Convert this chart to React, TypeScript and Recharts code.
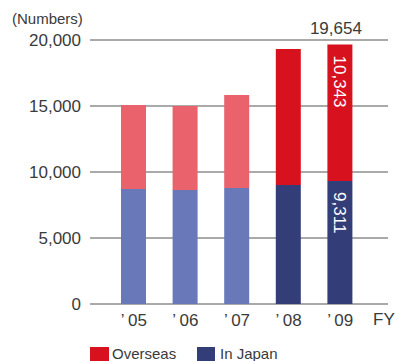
import { BarChart, Bar, XAxis, YAxis, CartesianGrid, Cell, LabelList } from "recharts";

const years = ["’\u200905", "’\u200906", "’\u200907", "’\u200908", "’\u200909"];
const inJapan = [8710, 8640, 8790, 9020, 9311];
const overseas = [6370, 6360, 7040, 10300, 10343];
const yTicks = [0, 5000, 10000, 15000, 20000];

const LIGHT_RED = "#E9626C";
const LIGHT_BLUE = "#6878B8";
const DARK_RED = "#D8111F";
const NAVY = "#333D77";
const TEXT = "#3a3a3a";
const FONT = "'Liberation Sans', Arial, sans-serif";

const data = years.map((year, i) => ({
  year,
  japan: inJapan[i],
  overseas: overseas[i],
  total: inJapan[i] + overseas[i],
}));

const fmt = (v: number) => v.toLocaleString("en-US");

// only the latest year gets value labels
function InsideLabel(props: any) {
  const { x, y, width, value, index } = props;
  if (index !== data.length - 1) return null;
  const cx = x + width / 2;
  const y0 = y + 11;
  return (
    <text x={cx} y={y0} transform={`rotate(90, ${cx}, ${y0})`} fill="#fff" fontSize={17}
      fontFamily={FONT} textAnchor="start" dominantBaseline="central">
      {fmt(value)}
    </text>
  );
}

function TotalLabel(props: any) {
  const { x, y, width, index } = props;
  if (index !== data.length - 1) return null;
  return (
    <text x={x + width / 2 - 4} y={y - 11} fill={TEXT} fontSize={17} fontFamily={FONT} textAnchor="middle">
      {fmt(data[index].total)}
    </text>
  );
}

export default function App() {
  return (
    <div style={{ position: "absolute", left: 0, top: 0, width: 395, height: 361, background: "#fff", fontFamily: FONT, overflow: "hidden" }}>
      <div style={{ position: "absolute", left: 12, top: 10, fontSize: 15, color: TEXT }}>(Numbers)</div>
      <BarChart width={395} height={361} data={data} margin={{ top: 40, right: 7, left: 0, bottom: 27 }}>
        <CartesianGrid vertical={false} stroke="#555" />
        <XAxis dataKey="year" height={30} axisLine={false} tickLine={false} tickSize={6} tickMargin={4}
          padding={{ left: 18, right: 22 }} tick={{ fontSize: 17, fill: TEXT, fontFamily: FONT }} />
        <YAxis width={90} domain={[0, 20000]} ticks={yTicks} tickFormatter={fmt} axisLine={false} tickLine={false}
          tickSize={6} tickMargin={3} tick={{ fontSize: 17, fill: TEXT, fontFamily: FONT }} />
        <Bar dataKey="japan" stackId="a" barSize={25} isAnimationActive={false}>
          {data.map((_, i) => <Cell key={i} fill={i < 3 ? LIGHT_BLUE : NAVY} />)}
          <LabelList dataKey="japan" content={InsideLabel} />
        </Bar>
        <Bar dataKey="overseas" stackId="a" barSize={25} isAnimationActive={false}>
          {data.map((_, i) => <Cell key={i} fill={i < 3 ? LIGHT_RED : DARK_RED} />)}
          <LabelList dataKey="overseas" content={InsideLabel} />
          <LabelList dataKey="total" content={TotalLabel} />
        </Bar>
      </BarChart>
      <div style={{ position: "absolute", left: 373, top: 310, fontSize: 17, color: TEXT }}>FY</div>
      <div style={{ position: "absolute", left: 90, top: 345, display: "flex", alignItems: "flex-start", fontSize: 15, color: TEXT, lineHeight: "17px" }}>
        <span style={{ width: 19, height: 16, background: DARK_RED, marginTop: 2 }} />
        <span style={{ marginLeft: 3, width: 85 }}>Overseas</span>
        <span style={{ width: 18, height: 16, background: NAVY, marginTop: 2 }} />
        <span style={{ marginLeft: 5 }}>In Japan</span>
      </div>
    </div>
  );
}
